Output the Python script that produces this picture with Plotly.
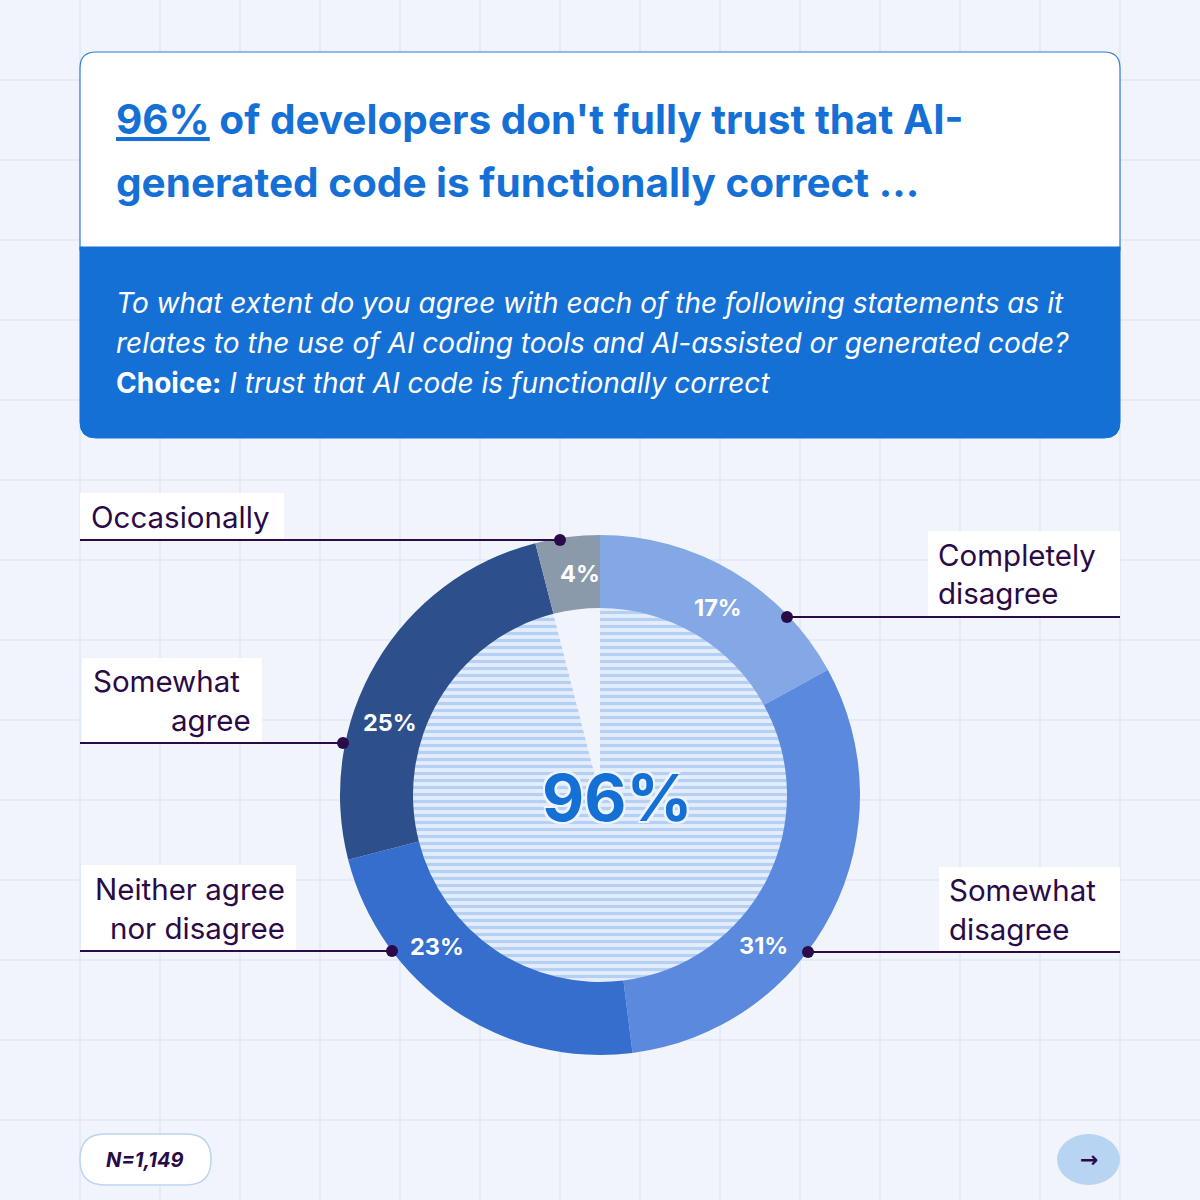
import plotly.graph_objects as go

# ---------------- data ----------------
categories = ["Completely disagree", "Somewhat disagree", "Neither agree nor disagree",
              "Somewhat agree", "Occasionally"]
values = [17, 31, 23, 25, 4]
slice_text = ["17%", "31%", "23%", "25%", "4%"]
slice_colors = ["#84a8e5", "#5b89de", "#356ecd", "#2d4f8c", "#8b9aab"]

headline_groups = ["Don't fully trust", "Occasionally"]
headline_values = [96, 4]
headline_text = "96%"
sample_size = "N=1,149"

title_lines = ["<u>96%</u> of developers don't fully trust that AI-",
               "generated code is functionally correct …"]
question_lines = ["<i>To what extent do you agree with each of the following statements as it</i>",
                  "<i>relates to the use of AI coding tools and AI-assisted or generated code?</i>",
                  "<b>Choice:</b> <i>I trust that AI code is functionally correct</i>"]

# ---------------- styling ----------------
W = H = 1200
BG = "#f1f5fb"
GRID = "#e3ebf7"
BLUE = "#1570d6"
INK = "#2a0a47"
FONT = "Inter"

cx, cy, R, r_in = 600, 795, 260, 187
# pixel positions of the percentage labels inside the ring (as placed in the reference)
slice_text_pos = [(718, 607), (763, 945), (437, 946), (390, 722), (580, 573)]


def dom(x, y, r):
    return dict(x=[(x - r) / W, (x + r) / W], y=[(H - y - r) / H, (H - y + r) / H])


def rrect(x0, y0, x1, y1, tl=0, tr=0, br=0, bl=0):
    p = f"M{x0 + tl},{y0} L{x1 - tr},{y0} "
    p += f"Q{x1},{y0} {x1},{y0 + tr} " if tr else ""
    p += f"L{x1},{y1 - br} "
    p += f"Q{x1},{y1} {x1 - br},{y1} " if br else ""
    p += f"L{x0 + bl},{y1} "
    p += f"Q{x0},{y1} {x0},{y1 - bl} " if bl else ""
    p += f"L{x0},{y0 + tl} "
    p += f"Q{x0},{y0} {x0 + tl},{y0} " if tl else ""
    return p + "Z"


fig = go.Figure()

# hatched inner pie (96% vs 4%)
fig.add_trace(go.Pie(
    values=headline_values, labels=headline_groups, sort=False,
    direction="clockwise", rotation=0, domain=dom(cx, cy, r_in + 2),
    textinfo="none", hoverinfo="skip", showlegend=False,
    marker=dict(colors=["#e3edfb", BG], line=dict(width=0),
                pattern=dict(shape=["-", ""], fgcolor=["#b5d0f2", BG],
                             bgcolor=["#e3edfb", BG], size=7, solidity=0.45)),
))

# outer donut
fig.add_trace(go.Pie(
    values=values, labels=categories, text=slice_text, sort=False,
    direction="clockwise", rotation=0, hole=r_in / R, domain=dom(cx, cy, R),
    textinfo="none",
    marker=dict(colors=slice_colors, line=dict(width=0)),
    hoverinfo="label+value", showlegend=False,
))

shapes = []
# header boxes
shapes.append(dict(type="path", path=rrect(80, 52, 1120, 250, tl=16, tr=16),
                   fillcolor="white", line=dict(color="#2a7ad9", width=1.2),
                   xref="x", yref="y", layer="above"))
shapes.append(dict(type="path", path=rrect(80, 247, 1120, 438, bl=16, br=16),
                   fillcolor=BLUE, line=dict(color=BLUE, width=1),
                   xref="x", yref="y", layer="above"))

# callout label boxes (white)
boxes = [(80, 493, 284, 540), (928, 531, 1120, 617), (82, 658, 262, 743),
         (81, 865, 296, 951), (939, 867, 1120, 952)]
for x0, y0, x1, y1 in boxes:
    shapes.append(dict(type="rect", x0=x0, y0=y0, x1=x1, y1=y1, fillcolor="white",
                       line=dict(width=0), xref="x", yref="y", layer="above"))

# callout leader lines and dots
leaders = [(80, 560, 540), (787, 1120, 617), (80, 343, 743), (80, 392, 951), (808, 1120, 952)]
dots = [(560, 540), (787, 617), (343, 743), (392, 951), (808, 952)]
for x0, x1, y in leaders:
    shapes.append(dict(type="line", x0=x0, x1=x1, y0=y, y1=y,
                       line=dict(color=INK, width=2.2), xref="x", yref="y", layer="above"))
for x, y in dots:
    shapes.append(dict(type="circle", x0=x - 6, x1=x + 6, y0=y - 6, y1=y + 6,
                       fillcolor=INK, line=dict(width=0), xref="x", yref="y", layer="above"))

# N pill & arrow button
shapes.append(dict(type="path", path=rrect(80, 1134, 211, 1185, 25, 25, 25, 25),
                   fillcolor="white", line=dict(color="#bcd5f2", width=1.5),
                   xref="x", yref="y", layer="above"))
shapes.append(dict(type="circle", x0=1057, x1=1120, y0=1134, y1=1185,
                   fillcolor="#b8d4f3", line=dict(width=0), xref="x", yref="y", layer="above"))

ann = []


def text(x, y, t, size, color=INK, xanchor="left", weight=None, family=FONT, shadow=None):
    f = dict(size=size, color=color, family=family)
    if weight:
        f["weight"] = weight
    if shadow:
        f["shadow"] = shadow
    ann.append(dict(x=x, y=y, xref="x", yref="y", text=t, showarrow=False,
                    xanchor=xanchor, yanchor="middle", font=f))


text(114, 119, title_lines[0], 40.5, BLUE, weight=700)
text(114, 182, title_lines[1], 40.5, BLUE, weight=700)
for i, line in enumerate(question_lines):
    text(114, 303 + 40 * i, line, 28, "white")

# percentage labels on the ring
for (x, y), t in zip(slice_text_pos, slice_text):
    text(x, y, f"<b>{t}</b>", 23.5, "white", xanchor="center")

# category labels
LS = 29.5
text(89, 517, "Occasionally", LS)
text(936, 555, "Completely", LS)
text(936, 593, "disagree", LS)
text(91, 681, "Somewhat", LS)
text(253, 720, "agree", LS, xanchor="right")
text(287, 889, "Neither agree", LS, xanchor="right")
text(287, 928, "nor disagree", LS, xanchor="right")
text(947, 890, "Somewhat", LS)
text(947, 929, "disagree", LS)

# center big number
text(617, 797, f"<b>{headline_text}</b>", 65, BLUE, xanchor="center",
     shadow="2px 2px 0 #eef4fc, -2px -2px 0 #eef4fc, 2px -2px 0 #eef4fc, -2px 2px 0 #eef4fc")

text(145, 1160, f"<b><i>{sample_size}</i></b>", 20, xanchor="center")
text(1089, 1159, "<b>→</b>", 22, xanchor="center", family="DejaVu Sans")

axis = dict(range=[0, W], showgrid=True, dtick=80, tick0=0, gridcolor=GRID, gridwidth=2,
            zeroline=False, showticklabels=False, ticks="", showline=False, fixedrange=True)
fig.update_layout(
    width=W, height=H, margin=dict(l=0, r=0, t=0, b=0),
    paper_bgcolor=BG, plot_bgcolor=BG,
    xaxis=dict(axis, domain=[0, 1]),
    yaxis=dict(axis, range=[H, 0], domain=[0, 1]),
    shapes=shapes, annotations=ann, showlegend=False,
)

fig.write_html("out.html")
